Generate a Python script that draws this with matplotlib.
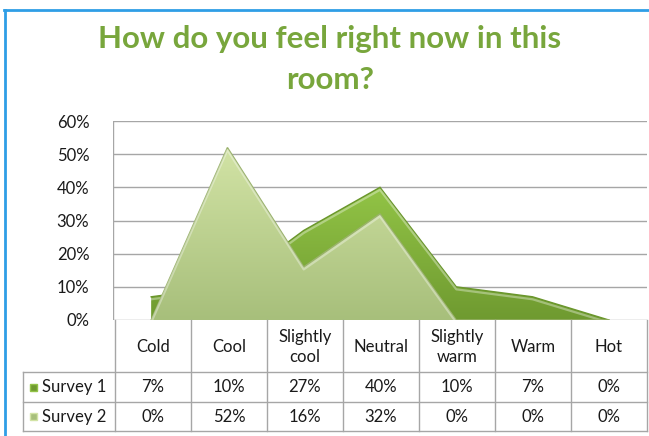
import numpy as np
import matplotlib
matplotlib.use("Agg")
import matplotlib.pyplot as plt
from matplotlib.patches import Polygon, Rectangle
from matplotlib.colors import LinearSegmentedColormap
import matplotlib.transforms as mtransforms

plt.rcParams['font.family'] = ['Lato', 'DejaVu Sans']

# survey answers (share of people)
categories = ['Cold', 'Cool', 'Slightly\ncool', 'Neutral', 'Slightly\nwarm', 'Warm', 'Hot']
survey1 = [0.07, 0.10, 0.27, 0.40, 0.10, 0.07, 0.00]
survey2 = [0.00, 0.52, 0.16, 0.32, 0.00, 0.00, 0.00]
series_names = ['Survey 1', 'Survey 2']
yticks = [0, 0.1, 0.2, 0.3, 0.4, 0.5, 0.6]

W, H = 649, 436
fig = plt.figure(figsize=(W / 100, H / 100), dpi=100)


def px_box(x0, y0, x1, y1):
    # pixel box (top-left origin) -> figure fraction rect
    return [x0 / W, (H - y1) / H, (x1 - x0) / W, (y1 - y0) / H]


# outer chart border (only top and left show)
fig.add_artist(plt.Line2D([4 / W, 1], [1 - 10.5 / H] * 2, color='#2f9ee6', lw=2))
fig.add_artist(plt.Line2D([5 / W] * 2, [0, 1 - 10.5 / H], color='#2f9ee6', lw=2))

# title
title_green = '#78a63c'
fig.text(330 / W, 1 - 48 / H, 'How do you feel right now in this', ha='center', va='baseline',
         fontsize=22.5, fontweight='bold', color=title_green)
fig.text(330 / W, 1 - 89 / H, 'room?', ha='center', va='baseline',
         fontsize=22.5, fontweight='bold', color=title_green)

ax = fig.add_axes(px_box(113, 121, 647, 320))
n = len(categories)
xc = np.arange(n) + 0.5


def grad_area(ax, x, y, c_top, c_bot, edge, z):
    verts = [(x[0], 0)] + list(zip(x, y)) + [(x[-1], 0)]
    patch = Polygon(verts, closed=True, facecolor='none', edgecolor='none')
    ax.add_patch(patch)
    cmap = LinearSegmentedColormap.from_list('g', [c_bot, c_top])
    grad = np.linspace(0, 1, 256).reshape(-1, 1)
    im = ax.imshow(grad, extent=[x[0], x[-1], 0, max(y)], origin='lower', aspect='auto',
                   cmap=cmap, zorder=z, interpolation='bilinear')
    im.set_clip_path(patch)
    ax.plot(x, y, color=edge, lw=1.0, zorder=z + 0.1, solid_joinstyle='miter')
    # bevel highlight just under the top edge
    off = mtransforms.offset_copy(ax.transData, fig=ax.figure, x=0, y=-2.5, units='dots')
    ax.plot(x, y, color='white', alpha=0.35, lw=1.6, zorder=z + 0.2, transform=off)


# gridlines
for t in yticks:
    ax.axhline(t, color='#a6a6a6', lw=1, zorder=1)
ax.axvline(0, color='#a6a6a6', lw=1, zorder=1)

# back series first, front series on top
grad_area(ax, xc, survey1, '#92c446', '#6f9a30', '#6a962c', 3)
grad_area(ax, xc, survey2, '#d2e3a5', '#a7bf7b', '#9ab26c', 4)

ax.set_xlim(0, n)
ax.set_ylim(0, 0.6)
ax.set_yticks(yticks)
ax.set_yticklabels([f'{int(round(t * 100))}%' for t in yticks])
ax.tick_params(axis='y', length=0, pad=17, labelsize=12, labelcolor='#1a1a1a')
ax.set_xticks([])
for s in ax.spines.values():
    s.set_visible(False)

# data table under the plot
tax = fig.add_axes(px_box(23, 320, 647, 431))
lw_col = 92 / 76
tax.set_xlim(-lw_col, n)
tax.set_ylim(111, 0)
tax.axis('off')
gc = '#a6a6a6'
for yy in (52, 82, 111):
    tax.plot([-lw_col, n], [yy, yy], color=gc, lw=1, clip_on=False)
for xx in range(n + 1):
    tax.plot([xx, xx], [0, 111], color=gc, lw=1, clip_on=False)
tax.plot([-lw_col, -lw_col], [52, 111], color=gc, lw=1, clip_on=False)

for i, c in enumerate(categories):
    tax.text(i + 0.5, 27, c, ha='center', va='center', fontsize=12, color='#1a1a1a',
             linespacing=1.25)

rows = [survey1, survey2]
row_y = [67, 96.5]
marker_cols = [('#93c347', '#6f9a30'), ('#d2e3a5', '#a7bf7b')]
for r, (name, vals) in enumerate(zip(series_names, rows)):
    yy = row_y[r]
    tax.add_patch(Rectangle((-lw_col + 7 / 76, yy - 3.5), 7 / 76, 7,
                            facecolor=marker_cols[r][1], edgecolor=marker_cols[r][0], lw=1,
                            clip_on=False))
    tax.text(-lw_col + 19 / 76, yy, name, ha='left', va='center', fontsize=12, color='#1a1a1a')
    for i, v in enumerate(vals):
        tax.text(i + 0.5, yy, f'{int(round(v * 100))}%', ha='center', va='center',
                 fontsize=12, color='#1a1a1a')

fig.savefig('out.png', dpi=100)
